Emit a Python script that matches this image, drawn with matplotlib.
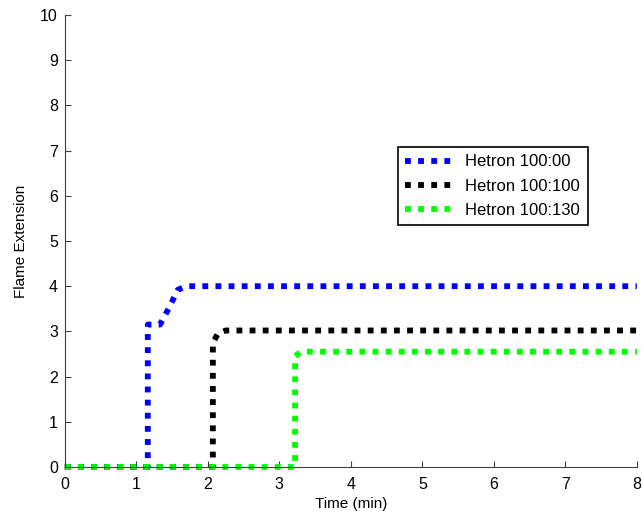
import matplotlib.pyplot as plt

plt.rcParams['font.family'] = ['Liberation Sans', 'DejaVu Sans']

# flame extension vs time
t_100_00 = [0, 1.16, 1.16, 1.33, 1.45, 1.58, 1.7, 8]
y_100_00 = [0, 0, 3.15, 3.15, 3.5, 3.92, 4.0, 4.0]

t_100_100 = [0, 2.07, 2.07, 2.14, 2.25, 8]
y_100_100 = [0, 0, 2.75, 2.95, 3.02, 3.02]

t_100_130 = [0, 3.22, 3.22, 3.3, 8]
y_100_130 = [0, 0, 2.45, 2.55, 2.55]

labels = ['Hetron 100:00', 'Hetron 100:100', 'Hetron 100:130']
colors = ['#0000ff', '#000000', '#00ff00']

fig = plt.figure(figsize=(6.42, 5.18), dpi=100)
ax = fig.add_axes([0.101, 0.0985, 0.891, 0.8725])

series = [(t_100_00, y_100_00), (t_100_100, y_100_100), (t_100_130, y_100_130)]
for (t, y), lab, c in zip(series, labels, colors):
    ax.plot(t, y, color=c, lw=4.2, linestyle=(0, (1, 1.25)),
            dash_capstyle='butt', label=lab, clip_on=False)

ax.set_xlim(0, 8)
ax.set_ylim(0, 10)
ax.set_xticks(range(0, 9))
ax.set_yticks(range(0, 11))
for s in ['top', 'right']:
    ax.spines[s].set_visible(False)
for s in ['left', 'bottom']:
    ax.spines[s].set_color('#404040')
ax.tick_params(direction='in', length=4, labelsize=11.5, color='#404040')
ax.tick_params(axis='x', pad=7)
ax.tick_params(axis='y', pad=5)
ax.set_xlabel('Time (min)', fontsize=11, labelpad=4)
ax.set_ylabel('Flame Extension', fontsize=11, labelpad=9)

leg = ax.legend(loc='upper left', bbox_to_anchor=(0.582, 0.708), fontsize=12,
                fancybox=False, edgecolor='black', framealpha=1,
                handlelength=2.8, handletextpad=0.8, borderpad=0.45,
                labelspacing=0.55, borderaxespad=0)
leg.get_frame().set_linewidth(1.2)

fig.savefig('out.png', dpi=100)
